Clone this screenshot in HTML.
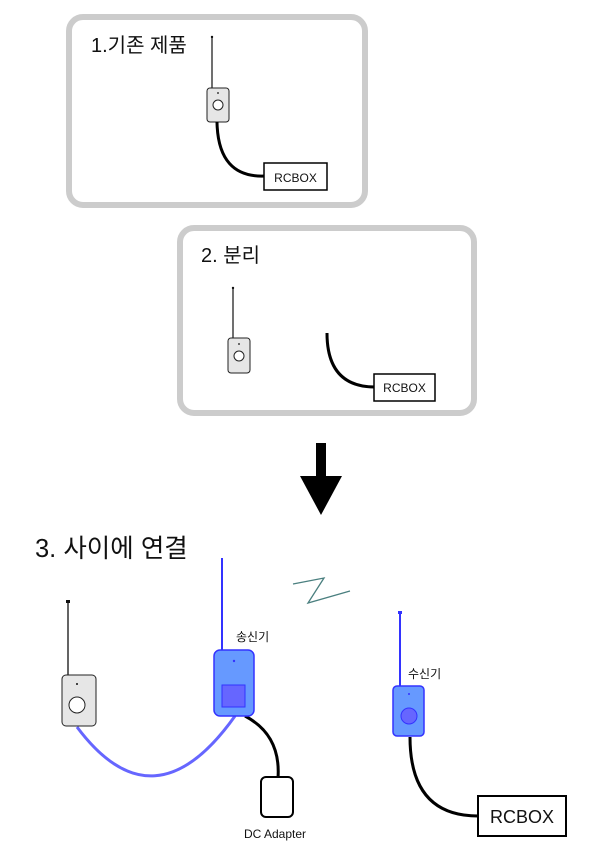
<!DOCTYPE html>
<html><head><meta charset="utf-8"><style>
html,body{margin:0;padding:0;background:#fff;}
svg{display:block;}
text{font-family:"Liberation Sans","Noto Sans CJK KR",sans-serif;fill:#111;}
</style></head><body>
<svg width="600" height="863" viewBox="0 0 600 863" xmlns="http://www.w3.org/2000/svg">
<rect x="69" y="17" width="296" height="188" rx="14" fill="#fff" stroke="#cccccc" stroke-width="6"/>
<text x="91" y="52" font-size="20">1.기존 제품</text>
<line x1="212" y1="37" x2="212" y2="88" stroke="#111" stroke-width="1.2"/>
<circle cx="212" cy="37" r="1.2" fill="#111"/>
<rect x="207" y="88" width="22" height="34" rx="3" fill="#e6e6e6" stroke="#222" stroke-width="1"/>
<circle cx="218" cy="93" r="0.9" fill="#111"/>
<circle cx="218" cy="105" r="5" fill="#fff" stroke="#222" stroke-width="1"/>
<path d="M217 122 Q218 178 265 176" fill="none" stroke="#000" stroke-width="3"/>
<rect x="264" y="163" width="63" height="27" fill="#fff" stroke="#000" stroke-width="1.5"/>
<text x="295.5" y="182" font-size="12" text-anchor="middle">RCBOX</text>

<rect x="180" y="228" width="294" height="185" rx="14" fill="#fff" stroke="#cccccc" stroke-width="6"/>
<text x="201" y="262" font-size="20">2. 분리</text>
<line x1="233" y1="288" x2="233" y2="338" stroke="#111" stroke-width="1.2"/>
<circle cx="233" cy="288" r="1.2" fill="#111"/>
<rect x="228" y="338" width="22" height="35" rx="3" fill="#e6e6e6" stroke="#222" stroke-width="1"/>
<circle cx="239" cy="344" r="0.9" fill="#111"/>
<circle cx="239" cy="356" r="5" fill="#fff" stroke="#222" stroke-width="1"/>
<path d="M327 333 Q327 387 375 387" fill="none" stroke="#000" stroke-width="3"/>
<rect x="374" y="374" width="61" height="27" fill="#fff" stroke="#000" stroke-width="1.5"/>
<text x="404.5" y="392" font-size="12" text-anchor="middle">RCBOX</text>

<rect x="316" y="443" width="10" height="35" fill="#000"/>
<polygon points="300,476 342,476 321,515" fill="#000"/>

<text x="35" y="557" font-size="25.5">3. 사이에 연결</text>

<polyline points="293,584 324,578 308,603 350,591" fill="none" stroke="#4a7f7f" stroke-width="1.3"/>

<line x1="68" y1="602" x2="68" y2="675" stroke="#111" stroke-width="1.3"/>
<rect x="66" y="600" width="4" height="3" fill="#111"/>
<path d="M77 727 Q154 830 235 716" fill="none" stroke="#6666ff" stroke-width="3"/>
<rect x="62" y="675" width="34" height="51" rx="4" fill="#e6e6e6" stroke="#222" stroke-width="1"/>
<circle cx="77" cy="684" r="1" fill="#111"/>
<circle cx="77" cy="705" r="8" fill="#fff" stroke="#222" stroke-width="1"/>

<line x1="222" y1="558" x2="222" y2="650" stroke="#3333ff" stroke-width="2"/>
<text x="236" y="641" font-size="12">송신기</text>
<path d="M245 716 Q281 735 278 778" fill="none" stroke="#000" stroke-width="3"/>
<rect x="214" y="650" width="40" height="66" rx="6" fill="#6699ff" stroke="#3333ff" stroke-width="1.5"/>
<circle cx="234" cy="661" r="1.2" fill="#3333ff"/>
<rect x="222" y="685" width="23" height="22" fill="#6666ff" stroke="#3333ff" stroke-width="1"/>
<rect x="261" y="777" width="32" height="40" rx="5" fill="#fff" stroke="#000" stroke-width="2"/>
<text x="275" y="838" font-size="12" text-anchor="middle">DC Adapter</text>

<line x1="400" y1="612" x2="400" y2="686" stroke="#3333ff" stroke-width="2"/>
<rect x="398" y="611" width="4" height="3" fill="#3333ff"/>
<text x="408" y="678" font-size="12">수신기</text>
<path d="M410 737 Q410 816 478 816" fill="none" stroke="#000" stroke-width="3"/>
<rect x="393" y="686" width="31" height="50" rx="4" fill="#6699ff" stroke="#3333ff" stroke-width="1.5"/>
<circle cx="409" cy="694" r="1" fill="#3333ff"/>
<circle cx="409" cy="716" r="8" fill="#6666ff" stroke="#3333ff" stroke-width="1"/>
<rect x="478" y="796" width="88" height="40" fill="#fff" stroke="#000" stroke-width="2"/>
<text x="522" y="823" font-size="18" text-anchor="middle">RCBOX</text>
</svg>
</body></html>
